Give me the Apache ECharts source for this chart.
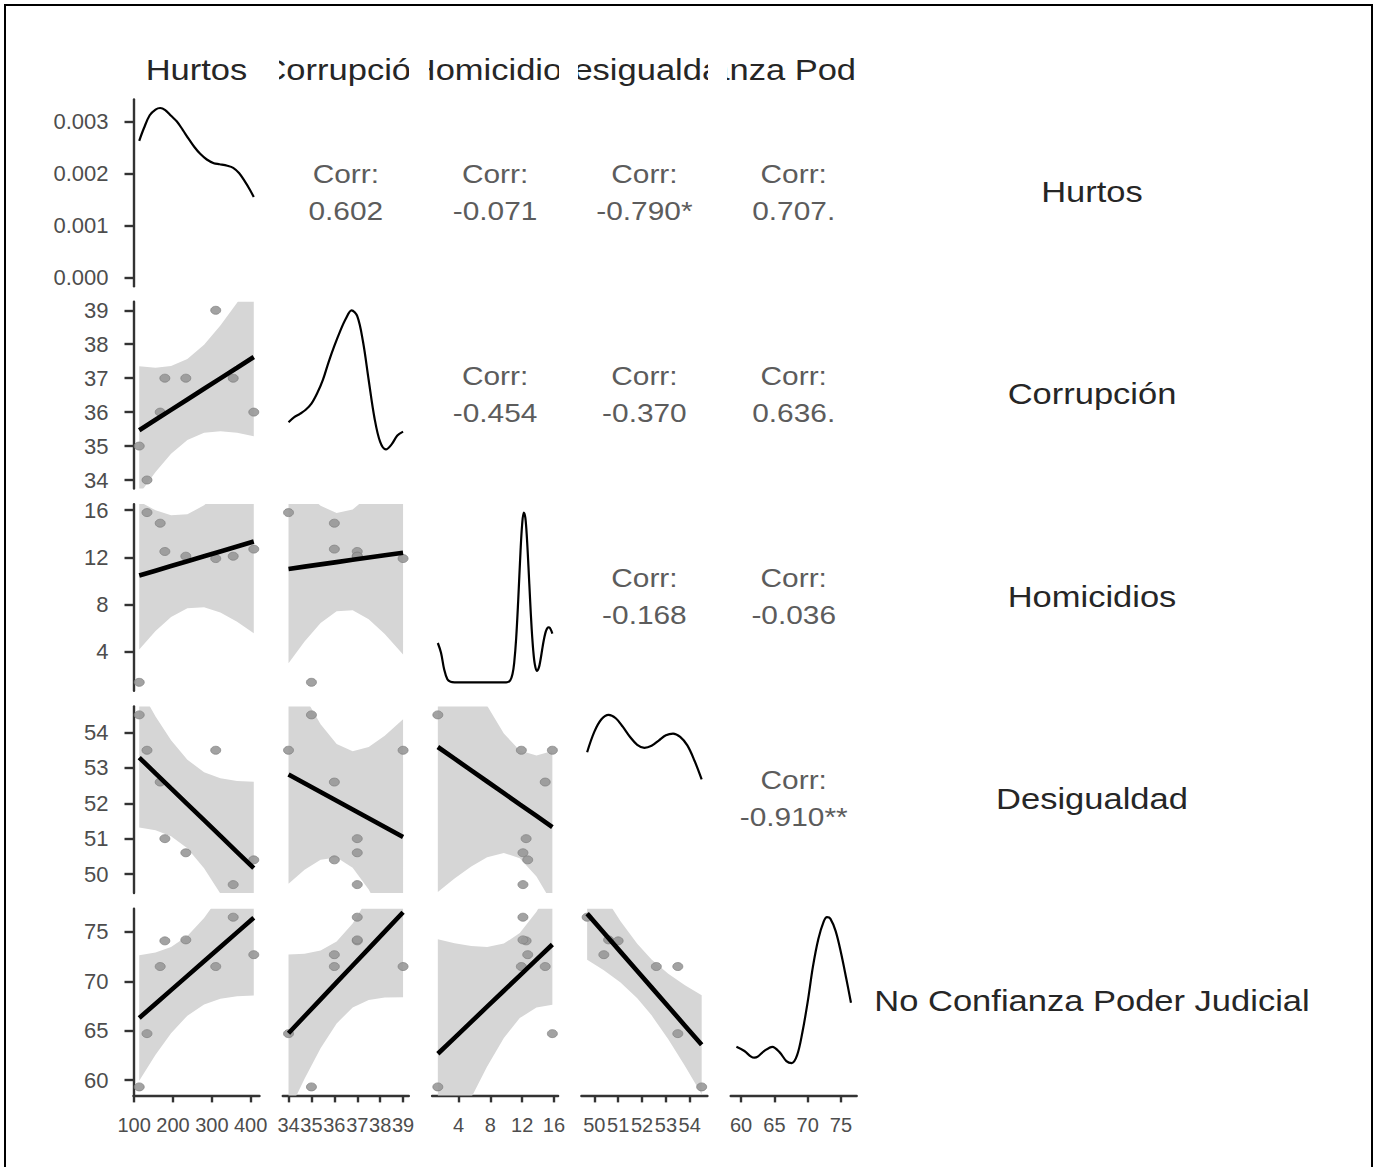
<!DOCTYPE html>
<html>
<head>
<meta charset="utf-8">
<script src="https://cdn.jsdelivr.net/npm/echarts@6/dist/echarts.min.js"></script>
<style>
html,body{margin:0;padding:0;background:#fff;}
#chart{width:1378px;height:1167px;}
</style>
</head>
<body>
<div id="chart"></div>
<script>
// ---------------- DATA ----------------
const varNames = ['Hurtos', 'Corrupción', 'Homicidios', 'Desigualdad', 'No Confianza Poder Judicial'];

const hurtos      = [113, 133, 167, 179, 233, 310, 355, 408];
const corrupcion  = [35, 34, 36, 37, 37, 39, 37, 36];
const homicidios  = [1.4, 15.8, 14.9, 12.5, 12.1, 11.9, 12.1, 12.7];
const desigualdad = [54.5, 53.5, 52.6, 51.0, 50.6, 53.5, 49.7, 50.4];
const noConfianza = [59.3, 64.7, 71.5, 74.1, 74.2, 71.5, 76.5, 72.7];

const ticksHurtos      = [100, 200, 300, 400];
const ticksCorrupcion  = [34, 35, 36, 37, 38, 39];
const ticksHomicidios  = [4, 8, 12, 16];
const ticksDesigualdad = [50, 51, 52, 53, 54];
const ticksConfianza   = [60, 65, 70, 75];
const ticksDensity     = [0, 0.001, 0.002, 0.003];

const corrHeader = 'Corr:';
const corrValues = ['0.602', '-0.071', '-0.790*', '0.707.', '-0.454', '-0.370', '0.636.', '-0.168', '-0.036', '-0.910**'];

// diagonal density curves (Hurtos in density units, others relative to their peak)
const densHurtos = [[113,0.00263],[125,0.00287],[140,0.00312],[155,0.00323],[167,0.00326],[180,0.00322],[195,0.00311],[210,0.00300],[225,0.00284],[240,0.00267],[255,0.00251],[270,0.00238],[287,0.00227],[305,0.00220],[320,0.00218],[340,0.00215],[355,0.00211],[370,0.00201],[385,0.00185],[398,0.00169],[408,0.00155]];
const densCorrupcion = [[34,0.34],[34.25,0.37],[34.5,0.39],[34.75,0.414],[35,0.45],[35.25,0.511],[35.5,0.59],[35.75,0.695],[36,0.79],[36.25,0.876],[36.5,0.95],[36.75,1.0],[37,0.965],[37.25,0.816],[37.5,0.588],[37.75,0.367],[38,0.224],[38.25,0.18],[38.5,0.21],[38.75,0.262],[39,0.285]];
const densHomicidios = [[1.4,0.231],[1.8,0.174],[2.2,0.075],[2.6,0.018],[3.0,0.003],[3.5,0.0],[10.0,0.0],[10.5,0.012],[10.8,0.052],[11.0,0.114],[11.25,0.259],[11.5,0.476],[11.8,0.774],[12.0,0.927],[12.2,0.997],[12.4,0.967],[12.6,0.848],[12.8,0.674],[13.0,0.484],[13.2,0.313],[13.4,0.184],[13.6,0.104],[13.85,0.067],[14.1,0.086],[14.3,0.13],[14.5,0.187],[14.7,0.243],[14.9,0.286],[15.1,0.313],[15.3,0.323],[15.5,0.319],[15.8,0.286]];
const densDesigualdad = [[49.7,0.78],[50.0,0.9],[50.3,0.974],[50.6,1.0],[50.9,0.98],[51.2,0.929],[51.5,0.87],[51.8,0.824],[52.1,0.806],[52.4,0.818],[52.7,0.849],[53.0,0.88],[53.3,0.89],[53.6,0.87],[53.9,0.82],[54.2,0.73],[54.5,0.62]];
const densConfianza = [[59.3,0.236],[60.5,0.211],[61.5,0.178],[62.0,0.172],[62.5,0.178],[63.5,0.212],[64.7,0.236],[65.8,0.203],[66.8,0.152],[67.6,0.14],[68.4,0.185],[69.2,0.32],[70.0,0.5],[70.8,0.71],[71.6,0.87],[72.4,0.972],[72.9,0.998],[73.4,0.99],[74.2,0.916],[75.0,0.789],[75.8,0.636],[76.5,0.495]];

// linear fits with 95% bands (x positions per column variable)
const bandXHurtos      = [113, 155, 195, 237, 280, 322, 365, 408];
const bandXCorrupcion  = [34, 34.7, 35.4, 36.1, 36.8, 37.5, 38.2, 39];
const bandXHomicidios  = [1.4, 3.5, 5.6, 7.6, 9.7, 11.7, 13.8, 15.8];
const bandXDesigualdad = [49.7, 50.4, 51.1, 51.8, 52.4, 53.1, 53.8, 54.5];

const fitCH = [35.467,35.774,36.066,36.373,36.687,36.994,37.308,37.623];
const loCH  = [33.582,34.238,34.772,35.178,35.391,35.439,35.391,35.290];
const hiCH  = [37.352,37.310,37.360,37.568,37.983,38.549,39.225,39.956];
const fitMH = [10.460,10.870,11.262,11.673,12.093,12.504,12.925,13.345];
const loMH  = [4.175,5.750,6.949,7.689,7.773,7.321,6.534,5.569];
const hiMH  = [16.745,15.990,15.575,15.657,16.413,17.687,19.316,21.121];
const fitMC = [11.020,11.213,11.406,11.599,11.792,11.985,12.178,12.399];
const loMC  = [3.008,4.863,6.435,7.434,7.523,6.755,5.489,3.755];
const hiMC  = [19.032,17.563,16.377,15.764,16.061,17.215,18.867,21.043];
const fitDH = [53.293,52.847,52.423,51.978,51.522,51.076,50.620,50.164];
const loDH  = [51.316,51.237,51.066,50.725,50.163,49.446,48.610,47.718];
const hiDH  = [55.270,54.457,53.780,53.231,52.881,52.706,52.630,52.610];
const fitDC = [52.816,52.568,52.320,52.072,51.824,51.576,51.328,51.045];
const loDC  = [49.726,50.119,50.403,50.465,50.177,49.559,48.748,47.711];
const hiDC  = [55.906,55.017,54.237,53.679,53.471,53.593,53.908,54.379];
const fitDM = [53.592,53.261,52.931,52.616,52.286,51.971,51.641,51.326];
const loDM  = [49.494,49.873,50.215,50.473,50.597,50.449,49.928,49.170];
const hiDM  = [57.690,56.649,55.647,54.759,53.975,53.493,53.354,53.482];
const fitNH = [66.286,67.732,69.108,70.554,72.034,73.479,74.959,76.439];
const loNH  = [59.926,62.551,64.743,66.522,67.662,68.234,68.492,68.569];
const hiNH  = [72.646,72.913,73.473,74.586,76.406,78.724,81.426,84.309];
const fitNC = [64.741,66.457,68.173,69.889,71.604,73.320,75.036,76.997];
const loNC  = [56.753,60.125,63.216,65.736,67.347,68.105,68.366,68.378];
const hiNC  = [72.729,72.789,73.130,74.042,75.861,78.535,81.706,85.616];
const fitNM = [62.659,64.275,65.890,67.428,69.044,70.582,72.198,73.736];
const loNM  = [51.066,54.690,58.206,61.365,64.267,66.276,67.352,67.636];
const hiNM  = [74.252,73.860,73.574,73.491,73.821,74.888,77.044,79.836];
const fitND = [76.862,74.923,72.985,71.047,69.386,67.448,65.509,63.571];
const loND  = [72.193,71.130,69.878,68.285,66.550,64.127,61.420,58.560];
const hiND  = [81.531,78.716,76.092,73.809,72.222,70.769,69.598,68.582];

// ---------------- LAYOUT ----------------
const PL = 133.5, PT = 99.5, PW = 126, PH = 186.7, SX = 149.3, SY = 202.3;
const FONT = "'Liberation Sans', Arial, Helvetica, sans-serif";
const AXIS_COLOR = '#333333';
const TEXT_SX = 1.17;

const columns = [hurtos, corrupcion, homicidios, desigualdad, noConfianza];
const ticks = [ticksHurtos, ticksCorrupcion, ticksHomicidios, ticksDesigualdad, ticksConfianza];
const densities = [densHurtos, densCorrupcion, densHomicidios, densDesigualdad, densConfianza];
const bandXs = [bandXHurtos, bandXCorrupcion, bandXHomicidios, bandXDesigualdad];
const lowerPanels = [
  [1, 0, fitCH, loCH, hiCH],
  [2, 0, fitMH, loMH, hiMH], [2, 1, fitMC, loMC, hiMC],
  [3, 0, fitDH, loDH, hiDH], [3, 1, fitDC, loDC, hiDC], [3, 2, fitDM, loDM, hiDM],
  [4, 0, fitNH, loNH, hiNH], [4, 1, fitNC, loNC, hiNC], [4, 2, fitNM, loNM, hiNM], [4, 3, fitND, loND, hiND]
];

function padRange(arr) {
  const mn = Math.min.apply(null, arr), mx = Math.max.apply(null, arr);
  const d = (mx - mn) * 0.05;
  return [mn - d, mx + d];
}
const ranges = columns.map(padRange);

const grids = [], xAxes = [], yAxes = [], series = [];

function axisCommon(showIt, tickVals, isY, fmt) {
  return {
    type: 'value',
    show: showIt,
    axisLine: { show: true, onZero: false, lineStyle: { color: AXIS_COLOR, width: 2.4 } },
    axisTick: { show: true, customValues: tickVals, length: isY ? 9 : 7, lineStyle: { color: AXIS_COLOR, width: 2.4 } },
    axisLabel: { show: true, customValues: tickVals, interval: 0, color: '#4d4d4d',
                 fontSize: isY ? 22 : 20, fontFamily: FONT,
                 margin: isY ? 25 : 20, formatter: fmt, showMinLabel: true, showMaxLabel: true, hideOverlap: false },
    splitLine: { show: false }
  };
}

function addCell(r, c, yRange, yTicks, yFmt) {
  const k = grids.length;
  grids.push({ left: PL + c * SX, top: PT + r * SY, width: PW, height: PH });
  const xa = axisCommon(r === 4, ticks[c], false, function (v) { return String(v); });
  xa.gridIndex = k; xa.min = ranges[c][0]; xa.max = ranges[c][1];
  xAxes.push(xa);
  const ya = axisCommon(c === 0, yTicks, true, yFmt);
  ya.gridIndex = k; ya.min = yRange[0]; ya.max = yRange[1];
  yAxes.push(ya);
  return k;
}

// diagonal density panels
for (let i = 0; i < 5; i++) {
  const d = densities[i];
  const mx = Math.max.apply(null, d.map(function (p) { return p[1]; }));
  const yr = [-0.05 * mx, 1.05 * mx];
  const k = addCell(i, i, yr, i === 0 ? ticksDensity : [], function (v) { return v.toFixed(3); });
  series.push({
    type: 'line', xAxisIndex: k, yAxisIndex: k, data: d, smooth: 0.35, showSymbol: false, symbol: 'none',
    lineStyle: { color: '#000', width: 2.2 }, silent: true, z: 3
  });
}

// lower panels: band + points + fit line
lowerPanels.forEach(function (p) {
  const r = p[0], c = p[1], fit = p[2], lo = p[3], hi = p[4];
  const k = addCell(r, c, ranges[r], ticks[r], function (v) { return String(v); });
  const xs = bandXs[c];
  series.push({
    type: 'custom', xAxisIndex: k, yAxisIndex: k, clip: true, silent: true, z: 1,
    data: xs.map(function (x, i) { return [x, lo[i], hi[i]]; }),
    encode: { x: 0, y: [1, 2] },
    renderItem: function (params, api) {
      if (params.dataIndex !== 0) return null;
      const pts = [];
      for (let i = 0; i < xs.length; i++) pts.push(api.coord([xs[i], hi[i]]));
      for (let i = xs.length - 1; i >= 0; i--) pts.push(api.coord([xs[i], lo[i]]));
      return { type: 'polygon', shape: { points: pts }, style: { fill: '#d6d6d6', stroke: null } };
    }
  });
  series.push({
    type: 'scatter', xAxisIndex: k, yAxisIndex: k, silent: true, z: 2,
    data: columns[c].map(function (x, i) { return [x, columns[r][i]]; }),
    symbolSize: [10, 8],
    itemStyle: { color: '#989898', opacity: 0.9, borderColor: '#808080', borderWidth: 0.8 }
  });
  series.push({
    type: 'line', xAxisIndex: k, yAxisIndex: k, silent: true, z: 3,
    data: xs.map(function (x, i) { return [x, fit[i]]; }),
    showSymbol: false, symbol: 'none', lineStyle: { color: '#000', width: 4.6 }
  });
});

// top strip labels (clipped to each column strip)
const STRIP_PAD = 3;
for (let c = 0; c < 5; c++) {
  const k = grids.length;
  grids.push({ left: PL + c * SX - STRIP_PAD, top: 40, width: PW + STRIP_PAD, height: 60 });
  xAxes.push({ gridIndex: k, type: 'value', min: 0, max: 1, show: false });
  yAxes.push({ gridIndex: k, type: 'value', min: 0, max: 1, show: false });
  const name = varNames[c];
  series.push({
    type: 'custom', xAxisIndex: k, yAxisIndex: k, clip: true, silent: true,
    data: [[0.5, 0.5]],
    renderItem: function (params, api) {
      const cs = params.coordSys;
      return {
        type: 'text', x: cs.x + STRIP_PAD + PW / 2, y: cs.y + 30, scaleX: TEXT_SX,
        style: { text: name, fontSize: 29.5, fontFamily: FONT, fill: '#262626',
                 align: 'center', verticalAlign: 'middle', textAlign: 'center', textVerticalAlign: 'middle' }
      };
    }
  });
}

// graphic: border, right-side labels, correlation texts
const graphics = [];
graphics.push({ type: 'rect', shape: { x: 5, y: 5, width: 1367, height: 1300 },
                style: { fill: 'none', stroke: '#000', lineWidth: 2 }, silent: true });
for (let r = 0; r < 5; r++) {
  graphics.push({
    type: 'text', x: 1092, y: PT + r * SY + PH / 2 - 1, scaleX: TEXT_SX, silent: true,
    style: { text: varNames[r], fontSize: 29.5, fontFamily: FONT, fill: '#262626',
             align: 'center', verticalAlign: 'middle', textAlign: 'center', textVerticalAlign: 'middle' }
  });
}
let ci = 0;
for (let r = 0; r < 5; r++) {
  for (let c = r + 1; c < 5; c++) {
    const cx = PL + c * SX + PW / 2, cy = PT + r * SY + PH / 2;
    graphics.push({
      type: 'text', x: cx, y: cy - 19, scaleX: TEXT_SX, silent: true,
      style: { text: corrHeader, fontSize: 25.5, fontFamily: FONT, fill: '#5c5c5c',
               align: 'center', verticalAlign: 'middle', textAlign: 'center', textVerticalAlign: 'middle' }
    });
    graphics.push({
      type: 'text', x: cx, y: cy + 18, scaleX: TEXT_SX, silent: true,
      style: { text: corrValues[ci], fontSize: 25.5, fontFamily: FONT, fill: '#5c5c5c',
               align: 'center', verticalAlign: 'middle', textAlign: 'center', textVerticalAlign: 'middle' }
    });
    ci++;
  }
}

const chart = echarts.init(document.getElementById('chart'), null, { renderer: 'svg' });
chart.setOption({
  animation: false,
  backgroundColor: '#ffffff',
  grid: grids,
  xAxis: xAxes,
  yAxis: yAxes,
  series: series,
  graphic: { elements: graphics }
});
</script>
</body>
</html>
